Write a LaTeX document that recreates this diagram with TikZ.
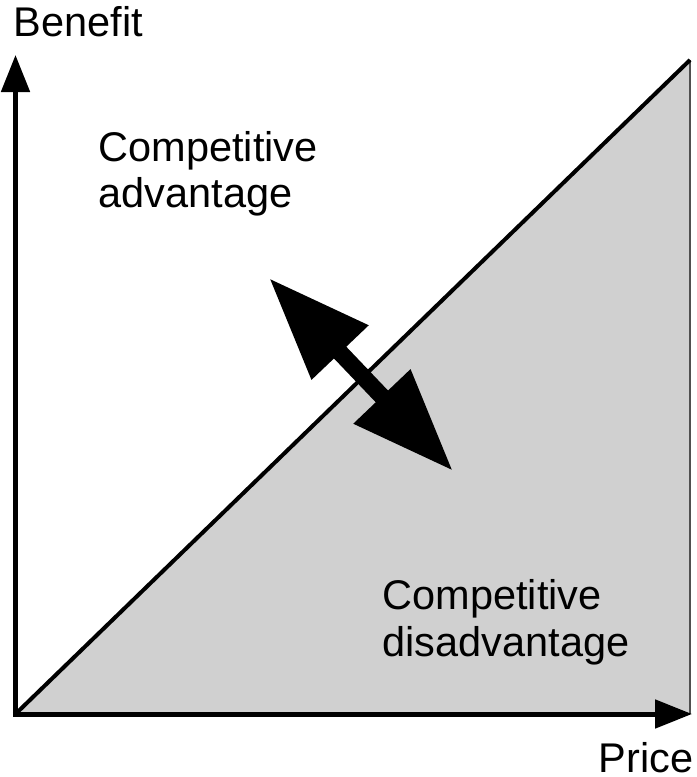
\documentclass[tikz,border=0pt]{standalone}
\usepackage{fontspec}
\setmainfont{Liberation Sans}
\usepackage{tikz}
\usetikzlibrary{arrows.meta}
\definecolor{regiongray}{HTML}{D0D0D0}
\definecolor{edgegray}{HTML}{505050}

\begin{document}
\begin{tikzpicture}[
    x=0.01cm, y=-0.01cm,
    font=\fontsize{11.8}{13.3}\selectfont,
    axistext/.style={inner sep=0pt,anchor=base west,align=left},
    axisline/.style={line width=0.05cm,-{Triangle[length=0.37cm,width=0.28cm]}},
    tradeoff/.style={line width=0.17cm,{Triangle[length=1.03cm,width=0.74cm]}-{Triangle[length=1.03cm,width=0.74cm]}}
  ]
    \useasboundingbox (0,0) rectangle (696,777);
    \coordinate (o) at (15.5,714);
    \coordinate (ytip) at (15.5,55);
    \coordinate (xtip) at (692,714);
    \coordinate (tr) at (690,60);
    \coordinate (br) at (690,714);
    \coordinate (up) at (269,278);
    \coordinate (down) at (453,471);

    % disadvantage region
    \fill[regiongray] (o) -- (tr) -- (br) -- cycle;
    \draw[edgegray,line width=0.02cm] (tr) -- (br);
    \draw[line width=0.04cm] (o) -- (tr);

    % axes
    \draw[axisline] ([yshift=-0.025cm]o) -- (ytip);
    \draw[axisline] ([xshift=-0.025cm]o) -- (xtip);

    \node[axistext] (benefit) at (13,37) {Benefit};
    \node[axistext] (price) at (598,772) {Price};
    \node[axistext] (adv) at (98,208) {Competitive\\advantage};
    \node[axistext] (disadv) at (382,656) {Competitive\\disadvantage};

    \draw[tradeoff] (up) -- (down);
  \end{tikzpicture}
\end{document}
